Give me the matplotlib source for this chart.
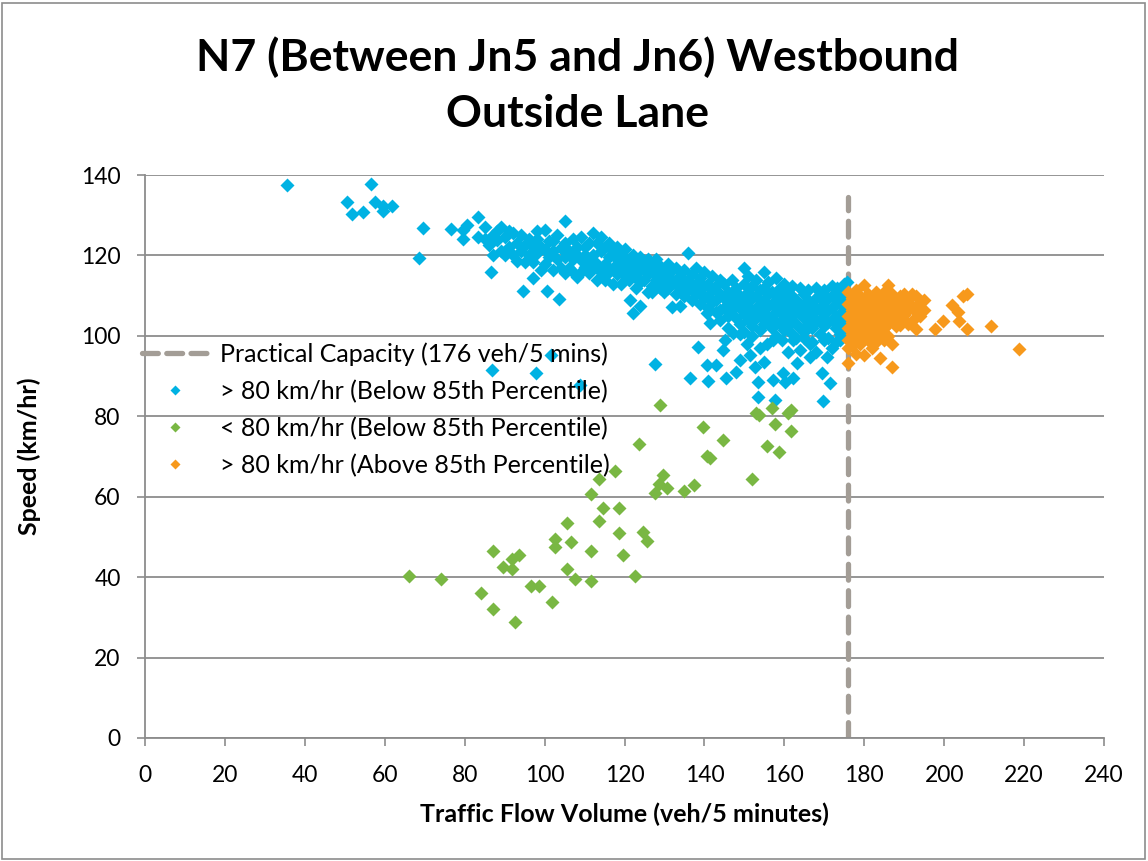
import matplotlib
matplotlib.use("Agg")
import matplotlib.pyplot as plt
from matplotlib.patches import Rectangle
from matplotlib.lines import Line2D

plt.rcParams['font.family'] = ['Lato', 'DejaVu Sans']

title = "N7 (Between Jn5 and Jn6) Westbound\nOutside Lane"
xlabel = "Traffic Flow Volume (veh/5 minutes)"
ylabel = "Speed (km/hr)"
capacity = 176
capacity_label = "Practical Capacity (176 veh/5 mins)"
labels = ["> 80 km/hr (Below 85th Percentile)",
          "< 80 km/hr (Below 85th Percentile)",
          "> 80 km/hr (Above 85th Percentile)"]
xticks = list(range(0, 241, 20))
yticks = list(range(0, 141, 20))

# ---- blue: > 80 km/hr below 85th percentile (x, y) ----
blue_sparse = [
    (35.6, 137.5), (56.6, 137.7), (50.6, 133.4), (51.7, 130.3), (54.5, 130.9),
    (57.6, 133.4), (59.6, 132.3), (59.6, 131.1), (61.7, 132.3), (68.6, 119.3),
    (69.6, 126.8), (76.6, 126.5), (79.7, 126.3), (80.5, 127.6), (79.7, 124.0),
    (83.4, 129.6), (83.4, 124.7), (86.5, 115.8), (94.7, 111.2), (100.7, 111.2),
    (103.7, 109.1), (86.8, 91.4), (97.8, 90.7), (101.6, 95.2), (108.9, 87.8),
    (127.6, 93.0), (138.5, 97.3), (136.0, 120.5), (121.4, 108.9), (122.2, 105.6),
    (123.9, 107.4), (126.8, 111.0), (131.8, 107.2), (133.9, 107.4),
    (140.6, 105.6), (141.4, 103.1), (143.9, 106.4), (145.1, 99.0), (144.7, 96.5),
    (140.6, 92.8), (143.0, 92.8), (141.0, 88.7), (136.4, 89.4), (145.5, 89.4),
    (148.0, 91.0), (150.6, 98.1), (147.2, 100.6), (151.4, 95.2), (152.7, 92.3),
    (153.5, 88.6), (153.5, 84.9), (157.7, 84.1), (157.2, 89.0), (159.7, 90.7),
    (160.2, 88.6), (162.2, 89.4), (163.1, 93.2), (166.4, 94.8), (169.3, 90.7),
    (171.4, 88.2), (169.6, 83.7), (155.6, 98.1), (157.2, 99.0), (159.3, 99.0),
    (162.2, 99.0), (166.4, 98.1), (170.6, 94.8), (173.9, 99.0), (173.1, 111.8),
    (175.6, 113.5), (173.1, 108.9), (149.0, 94.0), (155.0, 93.5), (161.0, 96.0),
    (164.0, 96.5), (168.0, 96.0), (172.0, 97.0), (152.0, 100.0), (154.0, 97.0),
    (146.0, 102.0), (149.0, 100.5), (165.0, 99.5), (170.0, 99.0), (174.0, 100.5),
]
blue_band = {
    85: [127, 124], 86: [122.5], 87: [125, 120], 88: [123.8, 126],
    89: [127.2, 121], 90: [120, 124.5], 91: [122, 126], 92: [125.5, 120.1],
    93: [123, 118.5], 94: [125.1, 121], 95: [118.4, 122.5], 96: [124, 120],
    97: [114.3, 118.4, 122], 98: [124.2, 120.5, 126], 99: [122, 116.5],
    100: [126.3, 121.4, 118], 101: [123.5, 119.5], 102: [123.5, 121, 116.5],
    103: [119, 125], 104: [121.8, 117], 105: [128.5, 119.7, 115.6, 123],
    106: [121, 117], 107: [124, 119, 116], 108: [122, 114.7, 120],
    109: [124.7, 118.9, 116], 110: [122.2, 117.2, 120], 111: [115.6, 119, 123],
    112: [125.5, 120.1, 117], 113: [123, 118, 114], 114: [121, 116, 124.5],
    115: [122, 118, 114], 116: [119.5, 116, 123], 117: [121, 117, 113],
    118: [122, 119, 115.5], 119: [117, 120, 113], 120: [121.5, 118, 115],
    121: [119, 116.5, 114], 122: [120, 117], 123: [118, 115, 112],
    124: [119.5, 116.5, 113.5], 125: [117, 114, 118.5], 126: [115.5, 111, 119],
    127: [118, 116, 112.5], 128: [114, 117, 119], 129: [115, 112, 117.5],
    130: [116.5, 113.5, 111], 131: [118, 115, 112], 132: [114, 116.5],
    133: [117, 113, 110.5], 134: [115, 112], 135: [116.5, 113.5, 110],
    136: [114, 111.5], 137: [112, 115.5, 109], 138: [117, 113, 110.5],
    139: [114.5, 111, 108], 140: [116, 112.5, 109.5], 141: [113, 110, 107],
    142: [115, 111.5, 108.5], 143: [112.5, 109, 106], 144: [114, 110.5, 104],
    145: [113, 109.5, 107], 146: [111, 108, 105], 147: [114, 110, 106.5],
    148: [112, 108.5, 104.5], 149: [110, 107, 103],
    150: [117, 113, 109, 105.5, 101], 151: [115, 111, 107.5, 104],
    152: [112.5, 109.5, 106, 102.5], 153: [114, 110, 107, 104.5],
    154: [111.5, 108, 105, 101.5], 155: [116, 112, 109, 106, 103],
    156: [113.5, 110.5, 107.5, 104], 157: [111, 108, 105, 102],
    158: [114.5, 110, 107, 103.5, 100], 159: [112, 109, 106, 103],
    160: [113, 110.5, 107.5, 104.5, 101.5], 161: [111.5, 108.5, 105.5, 102.5],
    162: [112.5, 110, 107, 104, 100.5], 163: [109, 106, 103, 99.5],
    164: [112, 108, 105.5, 102], 165: [110.5, 107.5, 104.5, 101],
    166: [111.5, 109, 106, 103], 167: [108, 105, 102, 98.5],
    168: [112, 109.5, 106.5, 103.5], 169: [110, 107, 104, 100.5],
    170: [111.5, 108.5, 105.5, 102.5], 171: [109.5, 106.5, 103.5, 99.5],
    172: [112.5, 110, 107, 104], 173: [108, 105, 102, 98.5],
    174: [111, 108.5, 105.5, 103], 175: [113, 110, 107, 104, 101],
}

# ---- green: < 80 km/hr below 85th percentile ----
green_x = [66, 74, 84, 87, 87, 89.5, 91.8, 91.8, 93.7, 92.7, 96.5, 98.7, 101.8,
           102.6, 102.6, 105.7, 106.7, 105.7, 107.7, 111.7, 111.7, 111.7, 113.7,
           113.7, 114.7, 117.7, 118.7, 118.7, 119.7, 122.7, 123.7, 124.7, 125.7,
           127.7, 128.7, 129.7, 130.7, 128.8, 135, 137.5, 139.7, 140.6, 141.5,
           144.7, 151.9, 152.9, 153.7, 156.8, 155.6, 157.7, 158.7, 161.0, 161.7,
           161.7]
green_y = [40.2, 39.5, 36, 32, 46.5, 42.4, 41.9, 44.4, 45.5, 28.9, 37.8, 37.8,
           33.9, 49.5, 47.4, 53.4, 48.8, 42.0, 39.5, 39.0, 46.6, 60.6, 64.5,
           54.0, 57.3, 66.5, 57.3, 50.9, 45.6, 40.3, 73.1, 51.3, 49.0, 61.0,
           63.1, 65.4, 62.2, 82.9, 61.3, 63.0, 77.3, 70.1, 69.6, 74.0, 64.4,
           80.7, 80.3, 82.0, 72.6, 78.0, 71.2, 80.9, 81.6, 76.4]

# ---- orange: > 80 km/hr above 85th percentile ----
orange_cols = {
    176: [111, 108, 105, 102, 99, 96.9, 93.3],
    177: [109.5, 106.5, 103.5, 100.5, 97.5],
    178: [111.5, 108, 105, 102, 99, 95.5],
    179: [110, 107, 104, 101, 98],
    180: [112.7, 108.5, 105.5, 102.5, 99.5, 95.2],
    181: [110.5, 107.5, 104.5, 101.5, 99],
    182: [109, 106, 103, 100, 97],
    183: [111, 107.5, 104.5, 101.5, 98.5],
    184: [109.5, 106.5, 103.5, 100.5, 94.6],
    185: [111, 108, 105, 102, 99],
    186: [112.7, 109, 106, 103, 100],
    187: [110.5, 107.5, 104.5, 98.1, 92.3],
    188: [108.5, 105.5, 102.5],
    189: [110, 107, 104, 102.7],
    190: [110.4, 108, 105.2],
    191: [109, 106.5, 103],
    192: [110.5, 107.5, 103.8],
    193: [109.9, 101.6, 106],
    194: [108.3, 105],
    195: [109, 106.5],
    197.7: [101.6], 199.8: [103.8], 201.9: [107.7], 203.5: [106],
    203.8: [103.8], 204.8: [109.8], 205.6: [110.4, 101.6],
    211.7: [102.5], 218.8: [96.7],
}

blue_x = [p[0] for p in blue_sparse] + [x for x, ys in blue_band.items() for _ in ys]
blue_y = [p[1] for p in blue_sparse] + [y for ys in blue_band.values() for y in ys]
orange_x = [x for x, ys in orange_cols.items() for _ in ys]
orange_y = [y for ys in orange_cols.values() for y in ys]

BLUE = '#00B2E3'
GREEN = '#79B743'
ORANGE = '#F7991C'
CAPC = '#A39D96'
GRID = '#8C8C8C'

fig = plt.figure(figsize=(11.48, 8.61), dpi=100)
fig.patches.append(Rectangle((0.002, 0.002), 0.995, 0.995, transform=fig.transFigure,
                             fill=False, edgecolor='#8C8C8C', linewidth=1.2))
ax = fig.add_axes([0.1263, 0.1429, 0.8354, 0.6538])

ax.plot([capacity, capacity], [0, 134.5], color=CAPC, lw=3.8, ls=(0, (3, 2)),
        zorder=2, dash_capstyle='round')
ms = 7
ax.plot(blue_x, blue_y, 'D', color=BLUE, ms=ms, mec='none', zorder=3)
ax.plot(green_x, green_y, 'D', color=GREEN, ms=ms, mec='none', zorder=3)
ax.plot(orange_x, orange_y, 'D', color=ORANGE, ms=ms, mec='none', zorder=3)

ax.set_xlim(0, 240)
ax.set_ylim(0, 140)
ax.set_xticks(xticks)
ax.set_yticks(yticks)
ax.tick_params(axis='both', labelsize=16.5, length=5.5, color=GRID, width=1.2)
ax.tick_params(axis='x', pad=14)
ax.tick_params(axis='y', pad=12)
ax.grid(axis='y', color=GRID, lw=1.3, zorder=0)
ax.set_axisbelow(True)
for s in ['top', 'right']:
    ax.spines[s].set_visible(False)
for s in ['left', 'bottom']:
    ax.spines[s].set_color(GRID)
    ax.spines[s].set_linewidth(1.3)

ax.set_xlabel(xlabel, fontsize=18, fontweight='bold')
ax.set_ylabel(ylabel, fontsize=18, fontweight='bold')
ax.xaxis.set_label_coords(0.5, -0.114)
ax.yaxis.set_label_coords(-0.108, 0.5)
fig.text(0.503, 0.9007, title, ha='center', va='center', fontsize=32,
         fontweight='bold', linespacing=1.49)

handles = [
    Line2D([], [], color=CAPC, lw=3.8, ls=(0, (3, 1.6)), dash_capstyle='round'),
    Line2D([], [], marker='D', color=BLUE, ls='none', ms=5, mec='none'),
    Line2D([], [], marker='D', color=GREEN, ls='none', ms=5, mec='none'),
    Line2D([], [], marker='D', color=ORANGE, ls='none', ms=5, mec='none'),
]
ax.legend(handles, [capacity_label] + labels, loc='upper left',
          bbox_to_anchor=(-0.003, 0.703), frameon=False, fontsize=18,
          handlelength=2.6, handletextpad=0.52, labelspacing=0.55,
          borderaxespad=0, borderpad=0)

fig.savefig('out.png', dpi=100)
